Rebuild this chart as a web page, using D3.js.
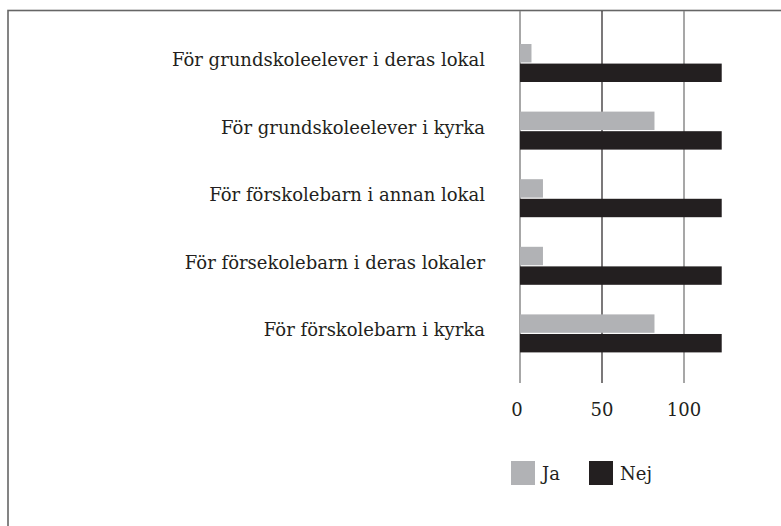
<!DOCTYPE html>
<html>
<head>
<meta charset="utf-8">
<script src="https://cdn.jsdelivr.net/npm/d3@7"></script>
<style>
body { margin: 0; background: #fff; }
</style>
</head>
<body>
<div id="chart"></div>
<script>
// data
var categories = [
	"För grundskoleelever i deras lokal",
	"För grundskoleelever i kyrka",
	"För förskolebarn i annan lokal",
	"För försekolebarn i deras lokaler",
	"För förskolebarn i kyrka"
];
var series = ["Ja", "Nej"];
var jaValues = [7, 82, 14, 14, 82];
var nejValues = [123, 123, 123, 123, 123];
var ticks = [0, 50, 100];

var colors = { "Ja": "#b1b2b5", "Nej": "#231f20" };
var font = "'DejaVu Serif', serif";

var width = 781, height = 526;

var svg = d3.select("#chart")
	.append("svg")
	.attr("width", width)
	.attr("height", height)
	.attr("font-family", font)

// frame (runs off the right and bottom edges)
svg.append("rect")
	.attr("x", 8)
	.attr("y", 10.5)
	.attr("width", 800)
	.attr("height", 600)
	.attr("fill", "none")
	.attr("stroke", "#666")
	.attr("stroke-width", 1.6)

var x = d3.scaleLinear()
	.domain([0, 100])
	.range([520, 684]);

var y = d3.scaleBand()
	.domain(categories)
	.range([29, 367]);

var inner = d3.scaleBand()
	.domain(series)
	.range([15, 53])
	.paddingInner(0.06);

// gridlines
svg.append("g")
	.selectAll("line")
	.data(ticks)
	.enter().append("line")
	.attr("x1", function(d) { return x(d); })
	.attr("x2", function(d) { return x(d); })
	.attr("y1", 11)
	.attr("y2", 383)
	.attr("stroke", function(d) { return d === 50 ? "#231f20" : "#8a8a8a"; })
	.attr("stroke-width", function(d) { return d === 50 ? 1.2 : 1.5; })

// bars
var rows = categories.map(function(c, i) {
	return { cat: c, values: [ { key: "Ja", v: jaValues[i] }, { key: "Nej", v: nejValues[i] } ] };
});

var groups = svg.append("g")
	.selectAll("g")
	.data(rows)
	.enter().append("g")
	.attr("transform", function(d) { return "translate(0," + y(d.cat) + ")"; })

groups.selectAll("rect")
	.data(function(d) { return d.values; })
	.enter().append("rect")
	.attr("x", x(0))
	.attr("y", function(d) { return inner(d.key); })
	.attr("width", function(d) { return x(d.v) - x(0); })
	.attr("height", inner.bandwidth())
	.attr("fill", function(d) { return colors[d.key]; })

// category labels
svg.append("g")
	.selectAll("text")
	.data(categories)
	.enter().append("text")
	.attr("x", 485)
	.attr("y", function(d) { return y(d) + 37; })
	.attr("text-anchor", "end")
	.attr("fill", "#231f20")
	.attr("font-size", 18)
	.text(function(d) { return d; })

// tick labels
svg.append("g")
	.selectAll("text")
	.data(ticks)
	.enter().append("text")
	.attr("x", function(d) { return x(d) - (d === 0 ? 3 : 0); })
	.attr("y", 416)
	.attr("text-anchor", "middle")
	.attr("fill", "#231f20")
	.attr("font-size", 18)
	.text(function(d) { return d; })

// legend
var legend = svg.append("g")
	.selectAll("g")
	.data(series)
	.enter().append("g")
	.attr("transform", function(d, i) { return "translate(" + (511 + i * 78) + ",461)"; })

legend.append("rect")
	.attr("width", 24)
	.attr("height", 24)
	.attr("fill", function(d) { return colors[d]; })

legend.append("text")
	.attr("x", 31)
	.attr("y", 19)
	.attr("fill", "#231f20")
	.attr("font-size", 18)
	.text(function(d) { return d; })
</script>
</body>
</html>
